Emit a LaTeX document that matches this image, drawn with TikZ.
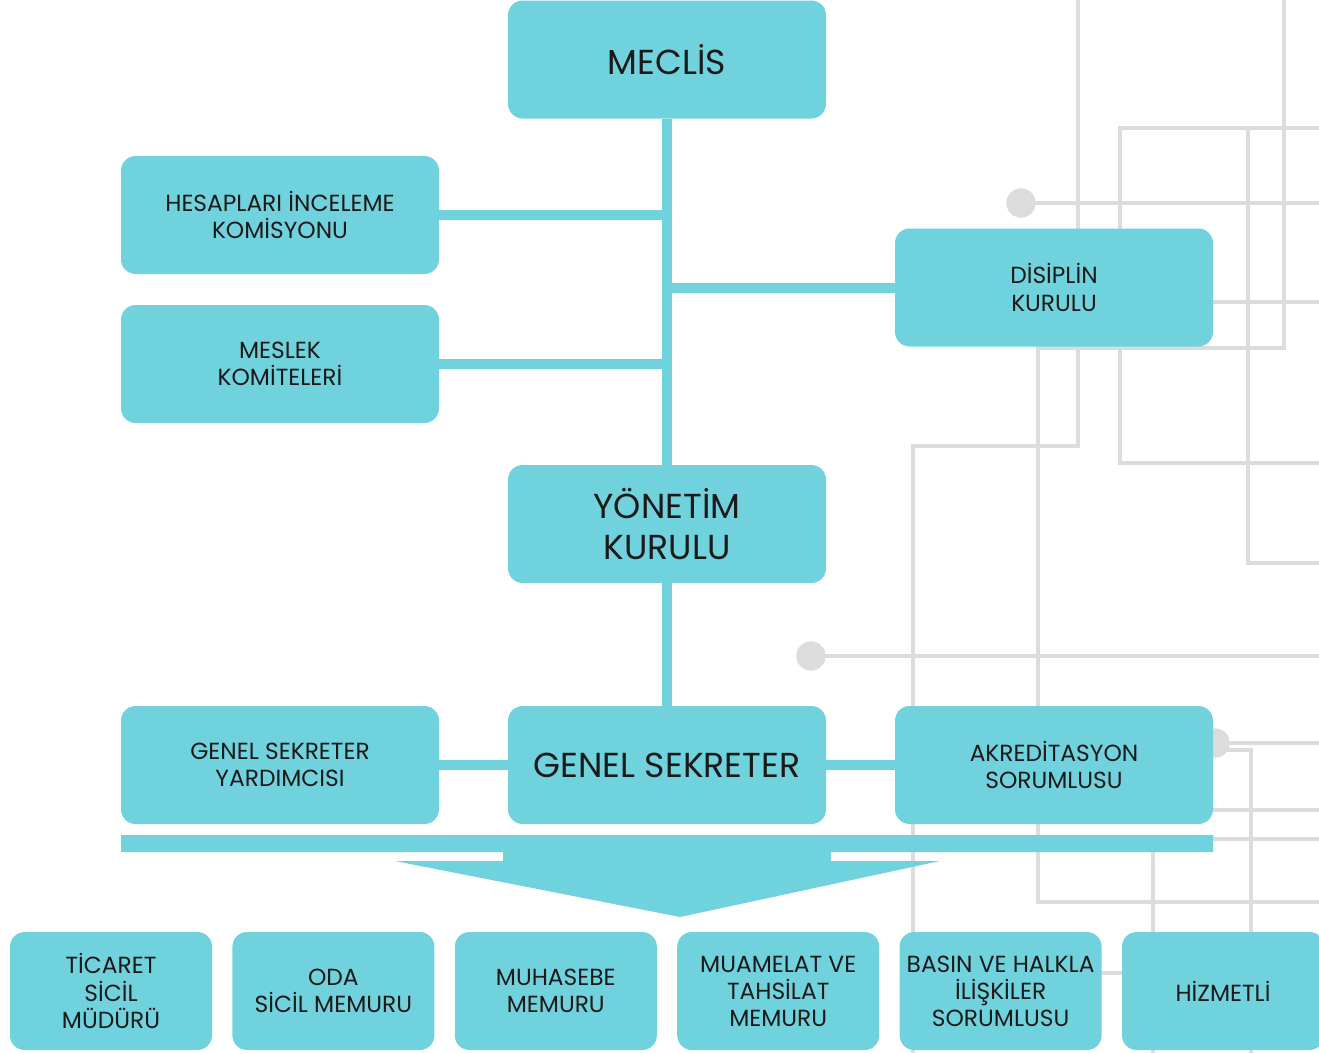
\documentclass[tikz,border=0pt]{standalone}
\usepackage{fontspec}
\setmainfont{Poppins}
\usetikzlibrary{positioning}

\definecolor{boxteal}{HTML}{70D2DD}
\definecolor{wiregray}{HTML}{DCDCDC}
\definecolor{ink}{HTML}{1A1A1A}

\tikzset{
  box/.style={fill=boxteal, rounded corners=11pt, minimum width=238.5pt, minimum height=88.5pt,
    inner sep=0pt, align=center, text=ink, font=\fontsize{17.5}{20.3}\selectfont},
  bigbox/.style={box, font=\fontsize{26}{31}\selectfont},
  smallbox/.style={box, minimum width=151.5pt},
  link/.style={boxteal, line width=7.5pt},
  wire/.style={wiregray, line width=2.6pt},
  dot/.style={circle, fill=wiregray, minimum size=22pt, inner sep=0pt},
}

\begin{document}
\begin{tikzpicture}[x=0.75pt, y=-0.75pt]
    \useasboundingbox (0,0) rectangle (1319,1053);

    % background lines
    \draw[wire] (1078,0) -- (1078,446) -- (913,446) -- (913,1053);
    \draw[wire] (1284,0) -- (1284,348) -- (1038,348) -- (1038,902) -- (1319,902);
    \draw[wire] (1319,128) -- (1120,128) -- (1120,463) -- (1319,463);
    \draw[wire] (1248,128) -- (1248,563) -- (1319,563);
    \draw[wire] (1200,302) -- (1319,302);
    \draw[wire] (1200,750) -- (1251,750) -- (1251,1053);
    \draw[wire] (1200,810) -- (1319,810);
    \draw[wire] (1200,839) -- (1319,839);
    \draw[wire] (1153,840) -- (1153,1053);
    \draw[wire] (1090,973) -- (1130,973);
    \node[dot] (d1) at (1021,203) {};
    \node[dot] (d2) at (811,656) {};
    \node[dot] (d3) at (1215,743) {};
    \draw[wire] (d1.center) -- (1319,203);
    \draw[wire] (d2.center) -- (1319,656);
    \draw[wire] (d3.center) -- (1319,743);

    % boxes
    \node[bigbox] (meclis) at (667,59.5) {MECLİS};
    \node[box] (hesap) at (280,215) {HESAPLARI İNCELEME\\KOMİSYONU};
    \node[box] (meslek) at (280,364) {MESLEK\\KOMİTELERİ};
    \node[box] (disiplin) at (1054,287.5) {DİSİPLİN\\KURULU};
    \node[bigbox] (yonetim) at (667,524) {YÖNETİM\\KURULU};
    \node[box] (yardimci) at (280,765) {GENEL SEKRETER\\YARDIMCISI};
    \node[bigbox] (genel) at (667,765) {GENEL SEKRETER};
    \node[box] (akredit) at (1054,765) {AKREDİTASYON\\SORUMLUSU};

    \node[smallbox] (ticaret) at (111,991) {TİCARET\\SİCİL\\MÜDÜRÜ};
    \node[smallbox, right=14.9pt of ticaret] (oda) {ODA\\SİCİL MEMURU};
    \node[smallbox, right=14.9pt of oda] (muhasebe) {MUHASEBE\\MEMURU};
    \node[smallbox, right=14.9pt of muhasebe] (muamelat) {MUAMELAT VE\\TAHSİLAT\\MEMURU};
    \node[smallbox, right=14.9pt of muamelat] (basin) {BASIN VE HALKLA\\İLİŞKİLER\\SORUMLUSU};
    \node[smallbox, right=14.9pt of basin] (hizmetli) {HİZMETLİ};

    % connectors
    \draw[link] (meclis) -- (yonetim);
    \draw[link] (hesap) -- (hesap -| meclis);
    \draw[link] (meslek) -- (meslek -| meclis);
    \draw[link] (disiplin) -- (disiplin -| meclis);
    \draw[link] (yonetim) -- (genel);
    \draw[link] (yardimci) -- (genel);
    \draw[link] (genel) -- (akredit);

    % big arrow
    \fill[boxteal] (121,835) -- (1213,835) -- (1213,852) -- (831,852) -- (831,861) -- (940,861)
        -- (680,917) -- (395,861) -- (503,861) -- (503,852) -- (121,852) -- cycle;
\end{tikzpicture}
\end{document}
